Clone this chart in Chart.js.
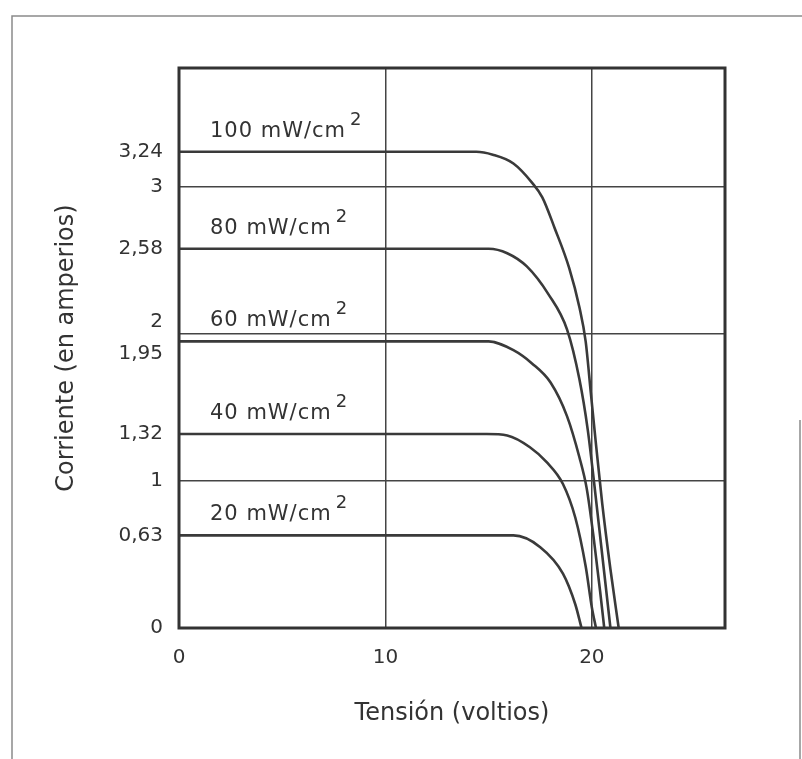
<!DOCTYPE html>
<html lang="es">
<head>
    <meta charset="UTF-8">
    <title>Curvas corriente-tensión</title>
    <style>
        html, body { margin: 0; background: #fff; }
        #box { width: 802px; height: 759px; position: relative; }
    </style>
    <script src="https://cdn.jsdelivr.net/npm/chart.js"></script>
</head>
<body>
<div id="box">
    <canvas id="ivChart" width="802" height="759"></canvas>
</div>

<script>
    // Irradiancia de cada curva (mW/cm2)
    const irradiance = ['100', '80', '60', '40', '20'];

    const volt100 = [0, 14.4, 15.2, 16.2, 17.1, 17.6, 18.2, 18.9, 19.4, 19.7, 19.95, 20.2, 20.5, 20.9, 21.3];
    const amp100  = [3.24, 3.24, 3.22, 3.16, 3.03, 2.93, 2.72, 2.45, 2.18, 1.95, 1.6, 1.25, 0.85, 0.4, 0];

    const volt80 = [0, 15.0, 15.9, 16.85, 17.9, 18.8, 19.4, 19.8, 20.1, 20.5, 20.9];
    const amp80  = [2.58, 2.58, 2.55, 2.46, 2.27, 2.03, 1.69, 1.35, 1.0, 0.5, 0];

    const volt60 = [0, 15.0, 16.2, 17.1, 18.0, 18.8, 19.4, 19.75, 20.1, 20.4, 20.6];
    const amp60  = [1.95, 1.95, 1.89, 1.80, 1.67, 1.44, 1.16, 0.95, 0.6, 0.25, 0];

    const volt40 = [0, 14.9, 15.9, 17.0, 17.8, 18.6, 19.2, 19.7, 20.0, 20.2];
    const amp40  = [1.32, 1.32, 1.31, 1.23, 1.13, 0.98, 0.75, 0.42, 0.14, 0];

    const volt20 = [0, 16.2, 17.5, 18.6, 19.2, 19.5];
    const amp20  = [0.63, 0.63, 0.55, 0.37, 0.16, 0];

    const voltSeries = [volt100, volt80, volt60, volt40, volt20];
    const ampSeries = [amp100, amp80, amp60, amp40, amp20];

    // Marcas de los ejes
    const xTicks = [0, 10, 20];
    const yTicks = [0, 0.63, 1, 1.32, 1.95, 2, 2.58, 3, 3.24];

    const ink = '#333';
    const font = '"DejaVu Sans", sans-serif';

    const datasets = irradiance.map((name, i) => ({
        label: name,
        data: voltSeries[i].map((v, k) => ({ x: v, y: ampSeries[i][k] })),
        borderColor: '#3a3a3a',
        borderWidth: 2.6,
        pointRadius: 0,
        fill: false,
        cubicInterpolationMode: 'monotone'
    }));

    // marco del gráfico, marco de la página y rótulos de las curvas
    const frameAndLabels = {
        id: 'frameAndLabels',
        afterDraw(chart) {
            const { ctx, chartArea: a, scales } = chart;
            ctx.save();
            ctx.strokeStyle = '#8a8a8a';
            ctx.lineWidth = 1.5;
            ctx.beginPath();
            ctx.moveTo(12, 759); ctx.lineTo(12, 16); ctx.lineTo(802, 16);
            ctx.moveTo(800, 420); ctx.lineTo(800, 759);
            ctx.stroke();

            ctx.strokeStyle = ink;
            ctx.lineWidth = 3;
            ctx.strokeRect(a.left, a.top, a.right - a.left, a.bottom - a.top);

            ctx.fillStyle = ink;
            ctx.textBaseline = 'alphabetic';
            ctx.textAlign = 'left';
            ctx.letterSpacing = '1px';
            chart.data.datasets.forEach(ds => {
                const yPix = scales.y.getPixelForValue(ds.data[0].y) - 15;
                const xPix = a.left + 31;
                const main = ds.label + ' mW/cm';
                ctx.font = '21px ' + font;
                ctx.fillText(main, xPix, yPix);
                const w = ctx.measureText(main).width;
                ctx.font = '18px ' + font;
                ctx.fillText('2', xPix + w + 4, yPix - 12);
            });
            ctx.restore();
        }
    };

    // "2" y "1,95" casi coinciden: se separan con una línea vacía
    const fmt = v => {
        const s = String(v).replace('.', ',');
        if (v === 2) return [s, ''];
        if (v === 1.95) return ['', s];
        return s;
    };

    new Chart(document.getElementById('ivChart'), {
        type: 'line',
        data: { datasets },
        options: {
            responsive: false,
            animation: false,
            layout: { padding: { top: 68, right: 77, left: 0, bottom: 0 } },
            plugins: { legend: { display: false }, tooltip: { enabled: false } },
            scales: {
                x: {
                    type: 'linear',
                    min: 0,
                    max: 26.45,
                    afterFit: s => { s.height = 131; },
                    afterBuildTicks: s => { s.ticks = xTicks.map(v => ({ value: v })); },
                    ticks: { color: ink, padding: 18, font: { family: font, size: 20 }, callback: fmt, maxRotation: 0 },
                    grid: { color: '#444', lineWidth: 1.5, drawTicks: false },
                    border: { display: false },
                    title: {
                        display: true,
                        text: 'Tensión (voltios)',
                        color: ink,
                        font: { family: font, size: 24 },
                        padding: { top: 0, bottom: 31 }
                    }
                },
                y: {
                    min: 0,
                    max: 3.81,
                    afterFit: s => { s.width = 179; },
                    afterBuildTicks: s => { s.ticks = yTicks.map(v => ({ value: v })); },
                    ticks: { color: ink, padding: 16, font: { family: font, size: 20 }, callback: fmt, autoSkip: false },
                    grid: {
                        color: c => Number.isInteger(c.tick.value) ? '#444' : 'rgba(0,0,0,0)',
                        lineWidth: 1.5,
                        drawTicks: false
                    },
                    border: { display: false },
                    title: {
                        display: true,
                        text: 'Corriente (en amperios)',
                        color: ink,
                        font: { family: font, size: 24 },
                        padding: { top: 52, bottom: 0 }
                    }
                }
            }
        },
        plugins: [frameAndLabels]
    });
</script>
</body>
</html>
